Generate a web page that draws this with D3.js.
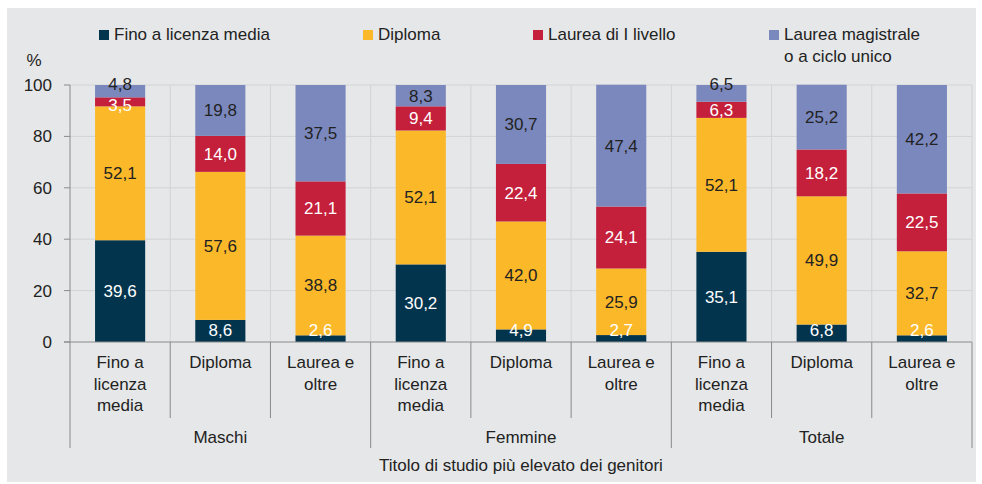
<!DOCTYPE html>
<html>
<head>
<meta charset="utf-8">
<script src="https://cdn.jsdelivr.net/npm/d3@7"></script>
<style>
  html, body { margin: 0; padding: 0; background: #fff; }
  svg { display: block; font-family: "Liberation Sans", Arial, sans-serif; }
</style>
</head>
<body>
<svg id="chart" width="982" height="484"></svg>
<script>
// Groups and parental education levels (x axis, two tiers)
const groups = ["Maschi", "Femmine", "Totale"];
const levels = ["Fino a licenza media", "Diploma", "Laurea e oltre"];
const levelLines = [["Fino a", "licenza", "media"], ["Diploma"], ["Laurea e", "oltre"]];

// Series (percent), one value per group × level, in order
const seriesNames = ["Fino a licenza media", "Diploma", "Laurea di I livello", "Laurea magistrale o a ciclo unico"];
const finoLicenza = [39.6, 8.6, 2.6, 30.2, 4.9, 2.7, 35.1, 6.8, 2.6];
const diploma     = [52.1, 57.6, 38.8, 52.1, 42.0, 25.9, 52.1, 49.9, 32.7];
const laureaI     = [3.5, 14.0, 21.1, 9.4, 22.4, 24.1, 6.3, 18.2, 22.5];
const laureaMag   = [4.8, 19.8, 37.5, 8.3, 30.7, 47.4, 6.5, 25.2, 42.2];

const yTicks = [0, 20, 40, 60, 80, 100];
const colors = ["#03344e", "#fbb829", "#c41f3b", "#7b88bd"];
const labelColors = ["#ffffff", "#222222", "#ffffff", "#222222"];
const FS = 17;

const svg = d3.select("#chart");
const m = { left: 70, right: 972, top: 85, bottom: 342 };

// panel background
svg.append("rect").attr("x", 7).attr("y", 8).attr("width", 969).attr("height", 474).attr("fill", "#e6e7e8");

const cats = [];
groups.forEach((g, gi) => levels.forEach((l, li) => cats.push({ id: g + "|" + l, g, gi, li })));

const x = d3.scaleBand().domain(cats.map(c => c.id)).range([m.left, m.right]).paddingInner(0).paddingOuter(0);
const y = d3.scaleLinear().domain([0, 100]).range([m.bottom, m.top]);
const barW = x.bandwidth() * 0.5;

// horizontal grid
svg.append("g").selectAll("line").data(yTicks.filter(t => t > 0)).join("line")
  .attr("x1", m.left).attr("x2", m.right)
  .attr("y1", d => y(d)).attr("y2", d => y(d))
  .attr("stroke", "#d2d3d5").attr("stroke-width", 1);

// vertical grid between categories
svg.append("g").selectAll("line").data(cats.slice(1).map(c => x(c.id)).concat([m.right])).join("line")
  .attr("x1", d => d).attr("x2", d => d)
  .attr("y1", m.top).attr("y2", m.bottom)
  .attr("stroke", "#d2d3d5").attr("stroke-width", 1);

// stacked data
const table = cats.map((c, i) => ({ id: c.id, s0: finoLicenza[i], s1: diploma[i], s2: laureaI[i], s3: laureaMag[i] }));
const stack = d3.stack().keys(["s0", "s1", "s2", "s3"])(table);

const layers = svg.append("g").selectAll("g").data(stack).join("g").attr("fill", (d, i) => colors[i]);
layers.selectAll("rect").data(d => d).join("rect")
  .attr("x", d => x(d.data.id) + (x.bandwidth() - barW) / 2)
  .attr("width", barW)
  .attr("y", d => y(d[1]))
  .attr("height", d => y(d[0]) - y(d[1]));

// value labels
const fmt = v => d3.format(".1f")(v).replace(".", ",");
stack.forEach((layer, si) => {
  svg.append("g").selectAll("text").data(layer).join("text")
    .attr("x", d => x(d.data.id) + x.bandwidth() / 2)
    .attr("y", d => {
      let cy = (y(d[0]) + y(d[1])) / 2;
      const v = d[1] - d[0];
      if (si === 0) cy = Math.min(cy, y(0) - 12);
      if (si === 3 && v < 7) cy = y(100) - 1;
      if (si === 2 && v < 5) cy += 3;
      return cy;
    })
    .attr("dy", "0.35em")
    .attr("text-anchor", "middle")
    .attr("font-size", FS)
    .attr("fill", labelColors[si])
    .text(d => fmt(d[1] - d[0]));
});

// y axis
const ya = svg.append("g");
ya.append("line").attr("x1", m.left).attr("x2", m.left).attr("y1", m.top).attr("y2", m.bottom).attr("stroke", "#8a8a8a");
ya.selectAll("line.t").data(yTicks).join("line").attr("class", "t")
  .attr("x1", m.left - 6).attr("x2", m.left).attr("y1", d => y(d)).attr("y2", d => y(d)).attr("stroke", "#8a8a8a");
ya.selectAll("text").data(yTicks).join("text")
  .attr("x", 52).attr("y", d => y(d)).attr("dy", "0.35em").attr("text-anchor", "end")
  .attr("font-size", FS).attr("fill", "#222").text(d => d);
svg.append("text").attr("x", 34).attr("y", 60).attr("dy", "0.35em").attr("text-anchor", "middle")
  .attr("font-size", FS).attr("fill", "#222").text("%");

// x axis baseline
svg.append("line").attr("x1", m.left - 6).attr("x2", m.right).attr("y1", m.bottom).attr("y2", m.bottom).attr("stroke", "#8a8a8a");

// separators under the axis
const sepX = cats.map(c => x(c.id)).concat([m.right]);
svg.append("g").selectAll("line").data(sepX).join("line")
  .attr("x1", d => d).attr("x2", d => d)
  .attr("y1", m.bottom)
  .attr("y2", (d, i) => (i % 3 === 0 ? 448 : 418))
  .attr("stroke", "#8a8a8a");

// level labels
const lvl = svg.append("g").selectAll("g").data(cats).join("g");
lvl.each(function (c) {
  const lines = levelLines[c.li];
  d3.select(this).selectAll("text").data(lines).join("text")
    .attr("x", x(c.id) + x.bandwidth() / 2)
    .attr("y", (d, k) => 362 + k * 21.7)
    .attr("dy", "0.35em").attr("text-anchor", "middle")
    .attr("font-size", FS).attr("fill", "#222").text(d => d);
});

// group labels
svg.append("g").selectAll("text").data(groups).join("text")
  .attr("x", (g, gi) => (x(cats[gi * 3].id) + x(cats[gi * 3 + 2].id) + x.bandwidth()) / 2)
  .attr("y", 437).attr("dy", "0.35em").attr("text-anchor", "middle")
  .attr("font-size", FS).attr("fill", "#222").text(d => d);

svg.append("text").attr("x", (m.left + m.right) / 2).attr("y", 465).attr("dy", "0.35em")
  .attr("text-anchor", "middle").attr("font-size", FS).attr("fill", "#222")
  .text("Titolo di studio più elevato dei genitori");

// legend
const legendX = [99, 363, 533, 769];
const leg = svg.append("g").selectAll("g").data(seriesNames).join("g")
  .attr("transform", (d, i) => `translate(${legendX[i]},30)`);
leg.append("rect").attr("width", 10).attr("height", 10).attr("fill", (d, i) => colors[i]);
leg.each(function (d, i) {
  const lines = i === 3 ? ["Laurea magistrale", "o a ciclo unico"] : [d];
  d3.select(this).selectAll("text").data(lines).join("text")
    .attr("x", 15).attr("y", (t, k) => 4.5 + k * 22).attr("dy", "0.35em")
    .attr("font-size", FS).attr("fill", "#222").text(t => t);
});
</script>
</body>
</html>
